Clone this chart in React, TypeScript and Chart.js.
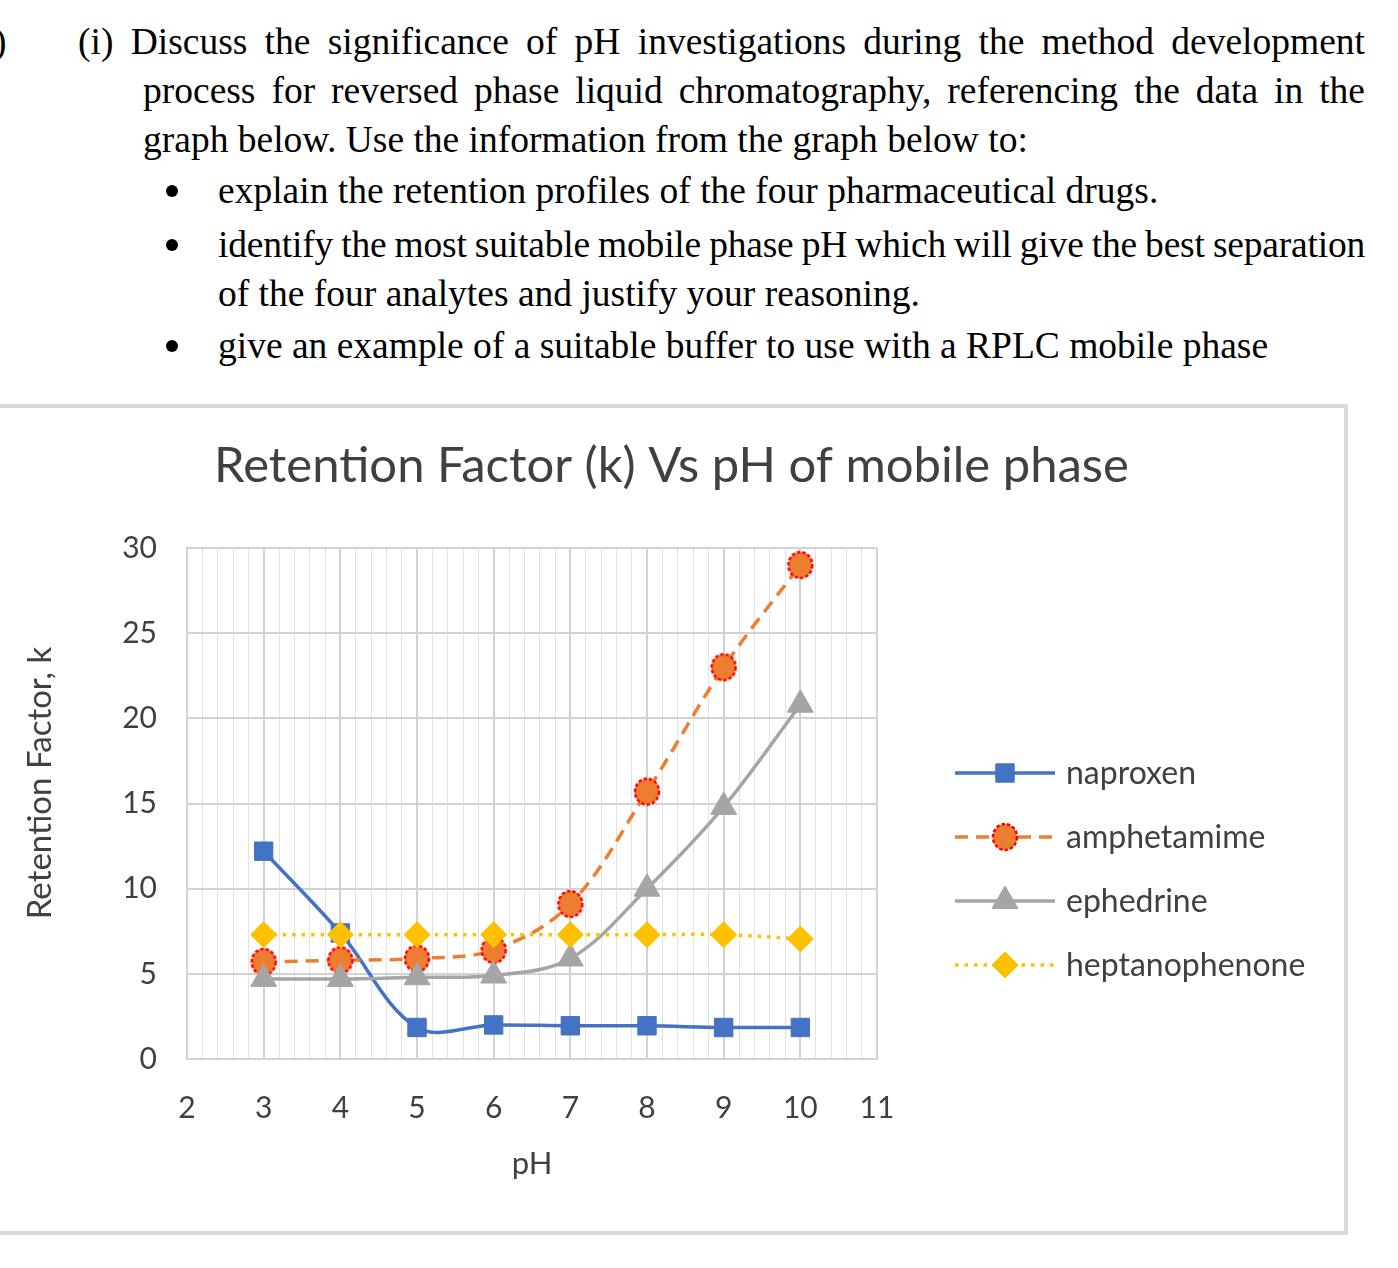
import React, { useEffect, useRef } from "react";
import { Chart, registerables } from "chart.js";
import { drawPoint } from "chart.js/helpers";

Chart.register(...registerables);

// ---- data ----
const phValues = [3, 4, 5, 6, 7, 8, 9, 10];
const naproxen = [12.2, 7.4, 1.85, 2.0, 1.95, 1.95, 1.85, 1.85];
const amphetamime = [5.7, 5.8, 5.9, 6.4, 9.1, 15.7, 23.0, 29.0];
const ephedrine = [4.7, 4.7, 4.8, 4.9, 5.9, 10.0, 14.8, 20.8];
const heptanophenone = [7.3, 7.3, 7.3, 7.3, 7.3, 7.3, 7.3, 7.05];
const seriesNames = ["naproxen", "amphetamime", "ephedrine", "heptanophenone"];
const xMin = 2;
const xMax = 11;
const yMin = 0;
const yMax = 30;
const yStep = 5;
const chartTitle = "Retention Factor (k) Vs pH of mobile phase";
const xTitle = "pH";
const yTitle = "Retention Factor, k";

const FONT = "Lato";
const TEXT = "#404040";

function makeAmphMarker(): HTMLCanvasElement {
  const c = document.createElement("canvas");
  c.width = 32;
  c.height = 32;
  const g = c.getContext("2d")!;
  g.beginPath();
  g.ellipse(16, 16, 12, 13, 0, 0, Math.PI * 2);
  g.fillStyle = "#ED7D31";
  g.fill();
  g.setLineDash([3.5, 2]);
  g.lineWidth = 2.5;
  g.strokeStyle = "#FF0000";
  g.stroke();
  return c;
}

const legendPlugin = {
  id: "lineLegend",
  afterDraw(chart: any) {
    const ctx = chart.ctx;
    const area = chart.chartArea;
    // legend
    const x0 = area.right + 78;
    const x1 = x0 + 100;
    const tx = x1 + 11;
    const y0 = area.top + 225;
    const step = 64;
    chart.data.datasets.forEach((ds: any, i: number) => {
      const y = y0 + i * step;
      ctx.save();
      ctx.strokeStyle = ds.borderColor;
      ctx.lineWidth = ds.borderWidth;
      ctx.setLineDash(ds.borderDash || []);
      ctx.beginPath();
      ctx.moveTo(x0, y);
      ctx.lineTo(x1, y);
      ctx.stroke();
      ctx.setLineDash([]);
      ctx.fillStyle = ds.pointBackgroundColor;
      ctx.strokeStyle = ds.pointBorderColor;
      ctx.lineWidth = ds.pointBorderWidth;
      drawPoint(
        ctx,
        {
          pointStyle: ds.pointStyle,
          rotation: 0,
          radius: ds.pointRadius,
          borderWidth: ds.pointBorderWidth,
        } as any,
        (x0 + x1) / 2,
        y
      );
      ctx.fillStyle = TEXT;
      ctx.font = `32px ${FONT}`;
      ctx.textBaseline = "middle";
      ctx.textAlign = "left";
      ctx.fillText(ds.label, tx, y + 1);
      ctx.restore();
    });
    // y axis title
    ctx.save();
    ctx.translate(area.left - 147, area.top + 235);
    ctx.rotate(-Math.PI / 2);
    ctx.fillStyle = TEXT;
    ctx.font = `33px ${FONT}`;
    ctx.textAlign = "center";
    ctx.textBaseline = "middle";
    ctx.fillText(yTitle, 0, 0);
    ctx.restore();
  },
};

export default function App() {
  const ref = useRef<HTMLCanvasElement | null>(null);

  useEffect(() => {
    if (!ref.current) return;
    const amphMarker = makeAmphMarker();
    const toXY = (arr: number[]) => phValues.map((x, i) => ({ x, y: arr[i] }));
    const chart = new Chart(ref.current, {
      type: "line",
      data: {
        datasets: [
          {
            label: seriesNames[0],
            data: toXY(naproxen),
            borderColor: "#4472C4",
            borderWidth: 3.5,
            pointStyle: "rect",
            pointRadius: 13,
            pointHoverRadius: 13,
            pointBackgroundColor: "#4472C4",
            pointBorderColor: "#4472C4",
            pointBorderWidth: 1,
            tension: 0.35,
            order: 4,
          },
          {
            label: seriesNames[1],
            data: toXY(amphetamime),
            borderColor: "#ED7D31",
            borderWidth: 3.5,
            borderDash: [13, 8],
            pointStyle: amphMarker,
            pointRadius: 13,
            pointHoverRadius: 13,
            pointBackgroundColor: "#ED7D31",
            pointBorderColor: "#FF0000",
            pointBorderWidth: 0,
            tension: 0.35,
            order: 3,
          },
          {
            label: seriesNames[2],
            data: toXY(ephedrine),
            borderColor: "#A5A5A5",
            borderWidth: 3.5,
            pointStyle: "triangle",
            pointRadius: 15,
            pointHoverRadius: 15,
            pointBackgroundColor: "#A5A5A5",
            pointBorderColor: "#A5A5A5",
            pointBorderWidth: 1,
            tension: 0.35,
            order: 2,
          },
          {
            label: seriesNames[3],
            data: toXY(heptanophenone),
            borderColor: "#FFC000",
            borderWidth: 3.5,
            borderDash: [3.5, 6],
            pointStyle: "rectRot",
            pointRadius: 13,
            pointHoverRadius: 13,
            pointBackgroundColor: "#FFC000",
            pointBorderColor: "#FFC000",
            pointBorderWidth: 1,
            tension: 0.35,
            order: 1,
          },
        ],
      },
      options: {
        responsive: false,
        animation: false,
        layout: { padding: { left: 0, right: 0, top: 0, bottom: 48 } },
        plugins: {
          legend: { display: false },
          tooltip: { enabled: false },
          title: {
            display: true,
            text: chartTitle,
            color: TEXT,
            font: { family: FONT, size: 49, weight: "normal" },
            padding: { top: 28.6, bottom: 52.6 },
          },
        },
        scales: {
          xMinor: {
            type: "linear",
            position: "bottom",
            min: xMin,
            max: xMax,
            ticks: { display: false, stepSize: 0.2 },
            border: { display: false },
            grid: {
              drawTicks: false,
              lineWidth: 1,
              color: (c: any) =>
                Math.abs(c.tick.value - Math.round(c.tick.value)) < 1e-6 ? "rgba(0,0,0,0)" : "#e2e2e2",
            },
            afterFit: (s: any) => {
              s.height = 0;
            },
          },
          x: {
            type: "linear",
            position: "bottom",
            min: xMin,
            max: xMax,
            ticks: {
              stepSize: 1,
              padding: 31,
              color: TEXT,
              font: { family: FONT, size: 30 },
            },
            border: { display: true, color: "#d2d2d2", width: 2 },
            grid: { drawTicks: false, color: "#d2d2d2", lineWidth: 2 },
            title: {
              display: true,
              text: xTitle,
              color: TEXT,
              font: { family: FONT, size: 31 },
              padding: { top: 0, bottom: 0 },
            },
            afterFit: (s: any) => {
              s.height = 124;
            },
          },
          y: {
            type: "linear",
            position: "left",
            min: yMin,
            max: yMax,
            ticks: {
              stepSize: yStep,
              padding: 30,
              color: TEXT,
              font: { family: FONT, size: 30 },
            },
            border: { display: true, color: "#d2d2d2", width: 2 },
            grid: { drawTicks: false, color: "#d2d2d2", lineWidth: 2 },
            afterFit: (s: any) => {
              s.width = 187;
            },
          },
          legendSpace: {
            type: "linear",
            position: "right",
            min: 0,
            max: 1,
            ticks: { display: false },
            grid: { display: false, drawTicks: false },
            border: { display: false },
            afterFit: (s: any) => {
              s.width = 466;
            },
          },
        },
      } as any,
      plugins: [legendPlugin],
    });
    return () => chart.destroy();
  }, []);

  const serif: React.CSSProperties = {
    position: "absolute",
    fontFamily: "'Liberation Serif', 'Times New Roman', serif",
    fontSize: 37.5,
    lineHeight: "40px",
    whiteSpace: "nowrap",
    color: "#000",
  };
  const just: React.CSSProperties = { textAlign: "justify", textAlignLast: "justify" } as any;
  const bullet = (top: number): React.CSSProperties => ({
    position: "absolute",
    left: 166,
    top,
    width: 12,
    height: 12,
    borderRadius: "50%",
    background: "#000",
  });

  return (
    <div
      style={{
        position: "absolute",
        left: 0,
        top: 0,
        width: 1398,
        height: 1268,
        overflow: "hidden",
        background: "#fff",
      }}
    >
      <div style={{ ...serif, left: -6, top: 22 }}>)</div>
      <div style={{ ...serif, ...just, left: 78, top: 22, width: 1287 }}>
        (i) Discuss the significance of pH investigations during the method development
      </div>
      <div style={{ ...serif, ...just, left: 143, top: 71, width: 1222 }}>
        process for reversed phase liquid chromatography, referencing the data in the
      </div>
      <div style={{ ...serif, left: 143, top: 120 }}>
        graph below. Use the information from the graph below to:
      </div>
      <div style={bullet(185)} />
      <div style={{ ...serif, left: 218, top: 171 }}>
        explain the retention profiles of the four pharmaceutical drugs.
      </div>
      <div style={bullet(239)} />
      <div
        style={{
          ...serif,
          ...just,
          left: 218,
          top: 225,
          width: 1147,
          wordSpacing: -5,
          letterSpacing: -0.2,
        }}
      >
        identify the most suitable mobile phase pH which will give the best separation
      </div>
      <div style={{ ...serif, left: 218, top: 274 }}>
        of the four analytes and justify your reasoning.
      </div>
      <div style={bullet(340)} />
      <div style={{ ...serif, left: 218, top: 326 }}>
        give an example of a suitable buffer to use with a RPLC mobile phase
      </div>

      <div
        style={{
          position: "absolute",
          left: -4,
          top: 404,
          width: 1352,
          height: 831,
          boxSizing: "border-box",
          border: "4px solid #d9d9d9",
        }}
      />
      <canvas
        ref={ref}
        width={1343}
        height={823}
        style={{ position: "absolute", left: 0, top: 408, display: "block" }}
      />
    </div>
  );
}
